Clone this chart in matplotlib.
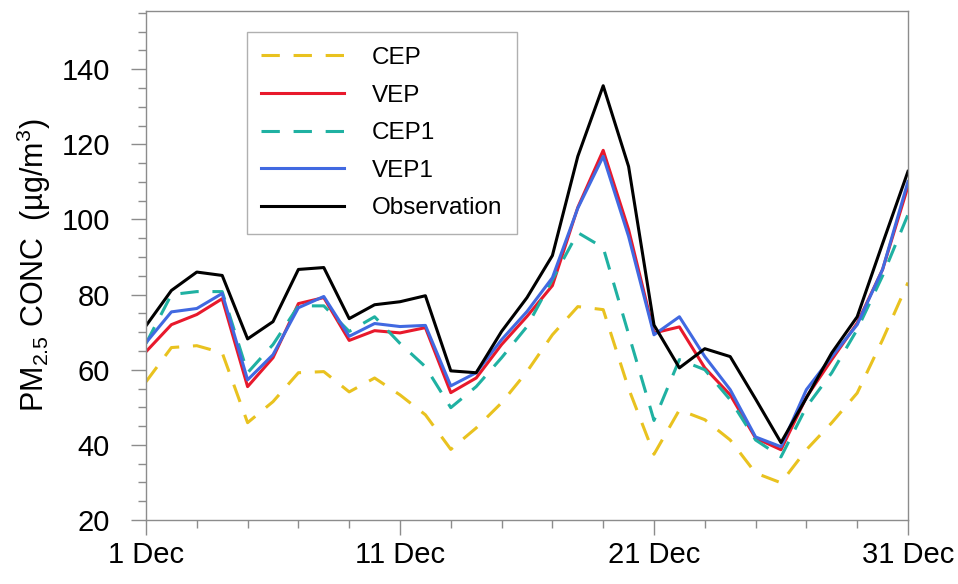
import numpy as np
import matplotlib
matplotlib.use("Agg")
import matplotlib.pyplot as plt

plt.rcParams['font.family'] = ['Liberation Sans', 'DejaVu Sans']
plt.rcParams['mathtext.fontset'] = 'custom'
plt.rcParams['mathtext.rm'] = 'Liberation Sans'
plt.rcParams['mathtext.it'] = 'Liberation Sans:italic'

# ---- data (daily PM2.5, 1-31 Dec) ----
days = np.arange(1, 32)

cep = [56.8, 65.9, 66.4, 64.5, 45.9, 51.5, 59.2, 59.5, 54.1, 57.8,
       53.3, 48.0, 38.8, 44.5, 51.2, 59.5, 69.3, 76.8, 76.0, 55.0,
       37.5, 49.3, 46.7, 41.3, 32.5, 29.9, 38.7, 45.9, 53.8, 68.0, 83.2]
vep = [64.8, 72.0, 74.7, 78.9, 55.5, 63.2, 77.6, 79.2, 67.8, 70.4,
       69.8, 71.2, 53.9, 57.8, 66.7, 74.2, 82.4, 103.2, 118.4, 97.3,
       69.8, 71.4, 60.5, 53.3, 41.8, 38.7, 52.7, 62.7, 72.4, 86.7, 108.8]
cep1 = [67.0, 80.0, 80.8, 80.8, 59.2, 66.7, 77.0, 77.0, 70.2, 74.1,
        67.0, 60.8, 49.9, 55.5, 63.2, 71.5, 84.0, 96.5, 92.5, 69.5,
        46.5, 62.7, 60.0, 52.0, 41.3, 36.8, 50.1, 59.2, 70.7, 85.0, 101.3]
vep1 = [67.2, 75.4, 76.3, 80.3, 57.3, 64.0, 76.5, 79.5, 68.9, 72.3,
        71.5, 71.8, 55.7, 59.2, 68.0, 75.5, 84.5, 103.0, 116.8, 95.5,
        69.3, 74.1, 63.5, 54.7, 42.1, 39.5, 54.7, 63.5, 72.0, 86.7, 110.1]
obs = [71.7, 81.1, 86.0, 85.1, 68.2, 72.8, 86.7, 87.2, 73.6, 77.3,
       78.1, 79.7, 59.7, 59.2, 70.2, 79.2, 90.4, 116.8, 135.6, 114.1,
       71.9, 60.5, 65.6, 63.5, 52.2, 40.6, 52.5, 64.5, 74.1, 93.6, 112.8]

xtick_days = [1, 11, 21, 31]
xtick_labels = ["1 Dec", "11 Dec", "21 Dec", "31 Dec"]

# ---- figure ----
fig = plt.figure(figsize=(9.58, 5.84), dpi=100)
ax = fig.add_axes([0.1524, 0.1096, 0.7954, 0.8716])

lw = 2.2
dash = (0, (6, 4.5))
ax.plot(days, cep, color='#E9C21F', lw=lw, linestyle=dash, label='CEP')
ax.plot(days, vep, color='#E8192C', lw=lw, label='VEP')
ax.plot(days, cep1, color='#1FB1A2', lw=lw, linestyle=dash, label='CEP1')
ax.plot(days, vep1, color='#4169E1', lw=lw, label='VEP1')
ax.plot(days, obs, color='black', lw=lw, label='Observation')

ax.set_xlim(1, 31)
ax.set_ylim(20, 155.5)
ax.set_xticks(xtick_days)
ax.set_xticklabels(xtick_labels)
ax.set_xticks(np.arange(1, 32, 2), minor=True)
ax.set_yticks(np.arange(20, 141, 20))
ax.set_yticks(np.arange(20, 156, 5), minor=True)

grey = '#8c8c8c'
for s in ax.spines.values():
    s.set_color(grey)
    s.set_linewidth(1.0)
ax.tick_params(which='both', direction='out', color=grey, width=1.0,
               labelsize=21, labelcolor='black')
ax.tick_params(which='major', length=11)
ax.tick_params(which='minor', length=5.5)
ax.tick_params(axis='x', which='major', pad=4)
ax.tick_params(axis='y', which='major', pad=15)

ax.set_ylabel('PM$_{2.5}$ CONC  (\u00b5g/m$^3$)', fontsize=22, labelpad=6)

leg = ax.legend(loc='upper left', bbox_to_anchor=(0.132, 0.958),
                fontsize=17.5, handlelength=3.4, handletextpad=1.15,
                labelspacing=0.64, borderpad=0.6, fancybox=False,
                framealpha=1, edgecolor='#b0b0b0', borderaxespad=0)
leg.get_frame().set_linewidth(1.0)

fig.savefig('out.png', dpi=100)
